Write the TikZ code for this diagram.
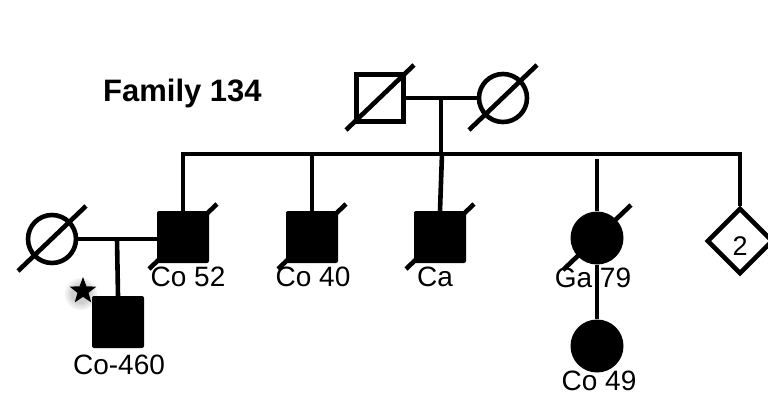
\documentclass[tikz,border=0pt]{standalone}
\usepackage{fontspec}
\setmainfont{Liberation Sans}
\usetikzlibrary{calc,shapes.geometric}
\begin{document}
\begin{tikzpicture}[x=1pt,y=-1pt,
  ln/.style={line width=4.6pt},
  male/.style={draw,ln,rectangle,minimum size=47pt,inner sep=0pt},
  female/.style={draw,ln,circle,minimum size=48pt,inner sep=0pt},
  amale/.style={fill=black,rectangle,rounded corners=2pt,minimum size=52pt,inner sep=0pt},
  afemale/.style={fill=black,circle,minimum size=53pt,inner sep=0pt},
  lbl/.style={anchor=north,inner sep=0pt,font=\fontsize{28}{32}\selectfont},
  slash/.style={ln}]
\useasboundingbox (0,0) rectangle (768,394);
% title
\node[anchor=north west,inner sep=0pt,font=\bfseries\fontsize{31}{36}\selectfont] (title) at (103,79) {Family 134};
% individuals
\node[male] (gf) at (380,98) {};
\node[female] (gm) at (503,98) {};
\node[female] (sp) at (52,239) {};
\node[amale] (c52) at (183,237) {};
\node[amale] (c40) at (312,237) {};
\node[amale] (ca) at (440,237) {};
\node[afemale] (ga) at (597,238) {};
\node[afemale] (c49) at (597,346) {};
\node[amale] (c460) at (118,322) {};
\node[draw,ln,diamond,minimum size=66pt,inner sep=0pt] (dia) at (740,241) {};
\node[inner sep=0pt,font=\fontsize{27}{30}\selectfont] (dtxt) at (740,246) {2};
% coordinates
\coordinate (m1) at (441,98);
\coordinate (s1) at (441,154);
\coordinate (sL) at (183,154);
\coordinate (sR) at (740,154);
\coordinate (s40) at (312,154);
\coordinate (sca) at (442,154);
\coordinate (sga) at (597,159);
\coordinate (m2) at (117,239);
% connectors
\draw[ln] (gf.east) -- (gm.west);
\draw[ln] (m1) -- (s1);
\draw[ln,line join=miter] (c52.north) -- (sL) -- (sR) -- (dia.north);
\draw[ln] (s40) -- (c40.north);
\draw[ln] (sca) -- (ca.north);
\draw[ln] (sga) -- (ga.north);
\draw[ln] (ga.south) -- (c49.north);
\draw[ln] (sp.east) -- (sp.east -| c52.west);
\draw[ln] (m2) -- (c460.north);
% deceased slashes
\foreach \n in {gf,gm,sp,c52,c40,ca,ga}
  \draw[slash] ($(\n)+(-34,32)$) -- ($(\n)+(34,-33)$);
% labels
\node[lbl] (l52) at (188,267) {Co 52};
\node[lbl] (l40) at (313,267) {Co 40};
\node[lbl] (lca) at (435,267) {Ca};
\node[lbl] (lga) at (593,268) {Ga 79};
\node[lbl] (l49) at (599,371) {Co 49};
\node[lbl] (l460) at (119,355) {Co-460};
% proband star with soft shadow
\foreach \r in {16,14,12,10}
  \fill[black,opacity=0.05] (81,294) circle (\r);
\node[star,star points=5,star point ratio=2.4,fill=black,minimum size=28pt,inner sep=0pt] (star) at (83,291) {};
\end{tikzpicture}
\end{document}
